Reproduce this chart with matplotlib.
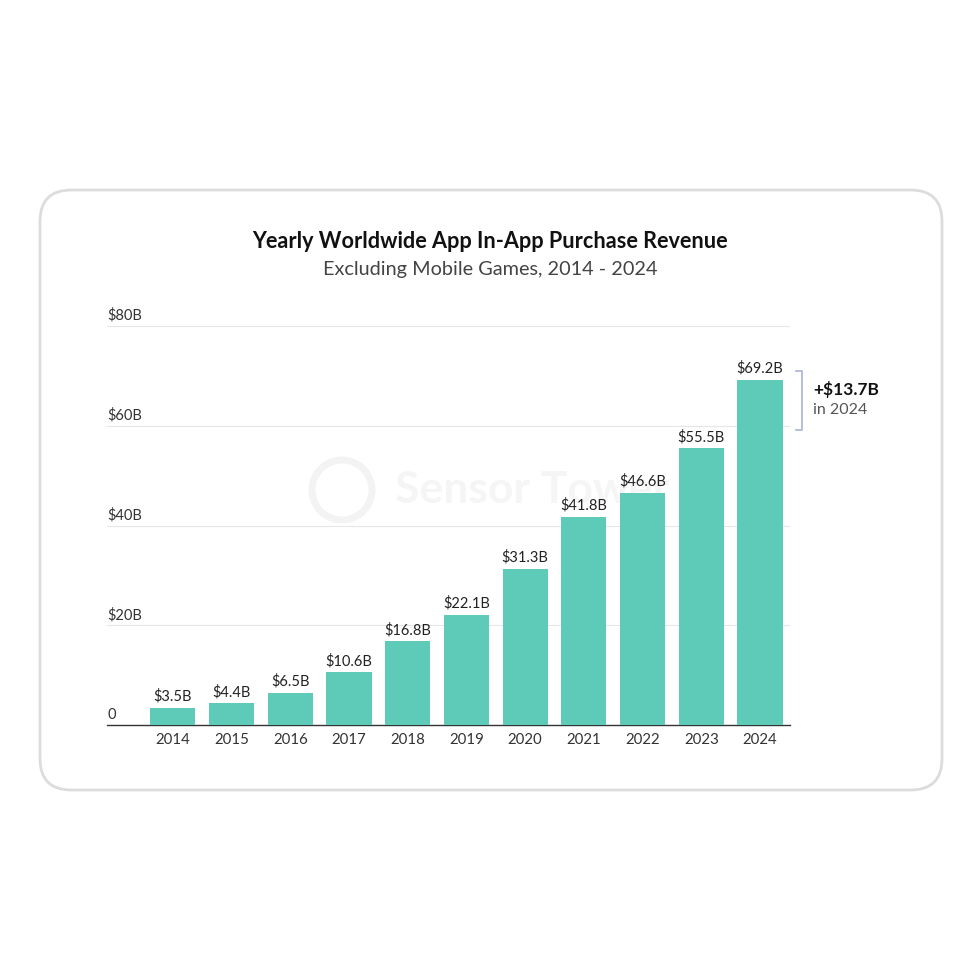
import matplotlib
matplotlib.use('Agg')
import matplotlib.pyplot as plt
import matplotlib.transforms as mtransforms
from matplotlib.patches import FancyBboxPatch, Circle

plt.rcParams['font.family'] = ['Lato', 'DejaVu Sans']

# datos
anios = ['2014', '2015', '2016', '2017', '2018', '2019', '2020', '2021', '2022', '2023', '2024']
ingresos = [3.5, 4.4, 6.5, 10.6, 16.8, 22.1, 31.3, 41.8, 46.6, 55.5, 69.2]
etiquetas = ['$3.5B', '$4.4B', '$6.5B', '$10.6B', '$16.8B', '$22.1B', '$31.3B',
             '$41.8B', '$46.6B', '$55.5B', '$69.2B']
ticks_y = [0, 20, 40, 60, 80]
ticks_y_txt = ['0', '$20B', '$40B', '$60B', '$80B']

verde = '#5ecbb8'
W = 980

fig = plt.figure(figsize=(9.8, 9.8), dpi=100)
fig.patch.set_facecolor('white')

# tarjeta con borde redondeado
tarjeta = FancyBboxPatch((40 / W, 190 / W), 902 / W, 600 / W,
                         boxstyle='round,pad=0,rounding_size=0.032',
                         transform=fig.transFigure, facecolor='none',
                         edgecolor='#dcdcdc', linewidth=2.0, zorder=-5)
fig.patches.append(tarjeta)

fig.text(490 / W, 1 - 242 / W, 'Yearly Worldwide App In-App Purchase Revenue',
         ha='center', va='center', fontsize=15.6, fontweight='bold', color='#111111')
fig.text(490 / W, 1 - 269 / W, 'Excluding Mobile Games, 2014 - 2024',
         ha='center', va='center', fontsize=14.3, color='#444444')

# marca de agua
logo = Circle((342 / W, 1 - 490 / W), 30 / W, transform=fig.transFigure,
              facecolor='none', edgecolor='#f3f3f3', linewidth=5, zorder=-4)
fig.patches.append(logo)
fig.text(395 / W, 1 - 490 / W, 'Sensor Tower', ha='left', va='center',
         fontsize=32, fontweight='bold', color='#f5f5f5', zorder=-4)

ax = fig.add_axes([107 / W, 255 / W, 683 / W, 399 / W])
ax.set_facecolor('none')
x = list(range(len(anios)))
ax.bar(x, ingresos, width=0.77, color=verde, zorder=3)
for xi, v, t in zip(x, ingresos, etiquetas):
    ax.text(xi, v + 0.8, t, ha='center', va='bottom', fontsize=10.5, color='#222222')

ax.set_xlim(-1.12, 10.51)
ax.set_ylim(0, 80)
ax.set_xticks(x)
ax.set_xticklabels(anios, fontsize=10.8, color='#333333')
ax.tick_params(axis='x', length=0, pad=6)
ax.set_yticks([])
for s in ['top', 'right', 'left']:
    ax.spines[s].set_visible(False)
ax.spines['bottom'].set_color('#333333')
ax.spines['bottom'].set_linewidth(1.0)

trans = mtransforms.blended_transform_factory(ax.transAxes, ax.transData)
for v, t in zip(ticks_y, ticks_y_txt):
    if v > 0:
        ax.axhline(v, color='#e6e6e6', linewidth=0.8, zorder=1)
    ax.text(0, v + 2.1, t, transform=trans, ha='left', va='center',
            fontsize=10.5, color='#333333')

# corchete y anotacion
ax.plot([10.62, 10.72, 10.72, 10.62], [70.9, 70.9, 59.2, 59.2], color='#a9b3d8',
        linewidth=1.2, clip_on=False)
ax.text(10.9, 67.3, '+$13.7B', ha='left', va='center', fontsize=12.5,
        fontweight='bold', color='#111111')
ax.text(10.9, 63.2, 'in 2024', ha='left', va='center', fontsize=11.5,
        color='#555555')

fig.savefig('out.png', dpi=100, facecolor='white')
